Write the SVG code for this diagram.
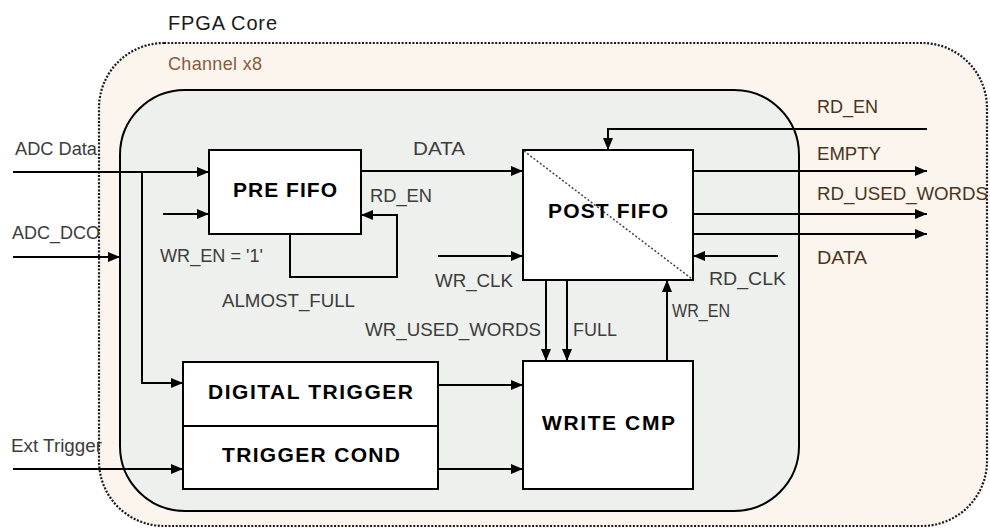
<svg xmlns="http://www.w3.org/2000/svg" width="990" height="529" viewBox="0 0 990 529">
  <defs>
    <marker id="arrow" viewBox="0 0 12 10" refX="12" refY="5" markerWidth="12" markerHeight="10" markerUnits="userSpaceOnUse" orient="auto">
      <path d="M0,0 L12,5 L0,10 z" fill="#000"/>
    </marker>
    <style>
      .box { fill: #fff; stroke: #000; stroke-width: 2; }
      .arr { fill: none; stroke: #000; stroke-width: 2; marker-end: url(#arrow); }
      .title { font-family: "Liberation Sans", Arial, sans-serif; font-weight: bold; font-size: 21px; fill: #000; }
      .lbl { font-family: "Liberation Sans", Arial, sans-serif; font-size: 18px; fill: #3c3c3c; }
      .out { font-family: "Liberation Sans", Arial, sans-serif; font-size: 18px; fill: #4a3420; }
    </style>
  </defs>

  <rect width="990" height="529" fill="#fff"/>

  <!-- FPGA core region (dotted) -->
  <g id="fpga-core">
    <rect x="99" y="43" width="888" height="483" rx="65" ry="65" fill="#fbf5ee" stroke="#1a1a1a" stroke-width="2.2" stroke-dasharray="2 1.6"/>
    <text x="168" y="30" font-family="Liberation Sans, Arial, sans-serif" font-size="20" fill="#1a1a1a" textLength="109" lengthAdjust="spacing">FPGA Core</text>
  </g>

  <!-- Channel block -->
  <g id="channel">
    <rect x="120" y="90" width="679" height="421" rx="65" ry="65" fill="#eef0ed" stroke="#000" stroke-width="2"/>
    <text x="168" y="70" font-family="Liberation Sans, Arial, sans-serif" font-size="18" fill="#8b5a3c" textLength="94" lengthAdjust="spacing">Channel x8</text>
  </g>

  <!-- Connectors -->
  <g id="connectors">
    <!-- ADC Data into PRE FIFO, branch to DIGITAL TRIGGER -->
    <line class="arr" x1="13" y1="172" x2="209" y2="172"/>
    <polyline class="arr" points="142,172 142,383 183,383"/>
    <!-- ADC_DCO -->
    <line class="arr" x1="13" y1="257" x2="120" y2="257"/>
    <!-- Ext Trigger -->
    <line class="arr" x1="13" y1="469" x2="183" y2="469"/>
    <!-- WR_EN = '1' -->
    <line class="arr" x1="163" y1="214" x2="209" y2="214"/>
    <!-- ALMOST_FULL -> RD_EN loop -->
    <polyline class="arr" points="290,234 290,277 397,277 397,215 361,215"/>
    <!-- DATA PRE -> POST -->
    <line class="arr" x1="361" y1="171" x2="523" y2="171"/>
    <!-- WR_CLK -->
    <line class="arr" x1="438" y1="256" x2="523" y2="256"/>
    <!-- RD_CLK -->
    <line class="arr" x1="778" y1="256" x2="693" y2="256"/>
    <!-- RD_EN into POST FIFO -->
    <polyline class="arr" points="927,129 608,129 608,150"/>
    <!-- outputs -->
    <line class="arr" x1="693" y1="171" x2="927" y2="171"/>
    <line class="arr" x1="693" y1="214" x2="927" y2="214"/>
    <line class="arr" x1="693" y1="234" x2="927" y2="234"/>
    <!-- WR_USED_WORDS, FULL -->
    <line class="arr" x1="546" y1="280" x2="546" y2="361"/>
    <line class="arr" x1="567" y1="280" x2="567" y2="361"/>
    <!-- WR_EN -->
    <line class="arr" x1="667" y1="361" x2="667" y2="280"/>
    <!-- triggers into WRITE CMP -->
    <line class="arr" x1="438" y1="385" x2="523" y2="385"/>
    <line class="arr" x1="438" y1="469" x2="523" y2="469"/>
  </g>

  <!-- Nodes -->
  <g id="pre-fifo">
    <rect class="box" x="209" y="150" width="152" height="84"/>
    <text class="title" x="233" y="197" textLength="104" lengthAdjust="spacing">PRE FIFO</text>
  </g>

  <g id="post-fifo">
    <rect class="box" x="523" y="150" width="170" height="130"/>
    <line x1="524" y1="151" x2="692" y2="279" stroke="#444" stroke-width="1.5" stroke-dasharray="2 2"/>
    <text class="title" x="548" y="218" textLength="120" lengthAdjust="spacing">POST FIFO</text>
  </g>

  <g id="digital-trigger">
    <rect class="box" x="183" y="362" width="255" height="64"/>
    <text class="title" x="208" y="399" textLength="205" lengthAdjust="spacing">DIGITAL TRIGGER</text>
  </g>

  <g id="trigger-cond">
    <rect class="box" x="183" y="426" width="255" height="63"/>
    <text class="title" x="222" y="462" textLength="178" lengthAdjust="spacing">TRIGGER COND</text>
  </g>

  <g id="write-cmp">
    <rect class="box" x="523" y="361" width="170" height="128"/>
    <text class="title" x="542" y="430" textLength="133" lengthAdjust="spacing">WRITE CMP</text>
  </g>

  <!-- Signal labels -->
  <g id="labels">
    <text class="lbl" x="15" y="155" textLength="82" lengthAdjust="spacingAndGlyphs">ADC Data</text>
    <text class="lbl" x="12" y="239" textLength="88" lengthAdjust="spacingAndGlyphs">ADC_DCO</text>
    <text class="lbl" x="11" y="452" textLength="91" lengthAdjust="spacingAndGlyphs">Ext Trigger</text>
    <text class="lbl" x="160" y="262" textLength="103" lengthAdjust="spacingAndGlyphs">WR_EN = '1'</text>
    <text class="lbl" x="222" y="307" textLength="133" lengthAdjust="spacingAndGlyphs">ALMOST_FULL</text>
    <text class="lbl" x="413" y="155" textLength="52" lengthAdjust="spacingAndGlyphs">DATA</text>
    <text class="lbl" x="370" y="202" textLength="62" lengthAdjust="spacingAndGlyphs">RD_EN</text>
    <text class="lbl" x="435" y="287" textLength="78" lengthAdjust="spacingAndGlyphs">WR_CLK</text>
    <text class="lbl" x="365" y="336" textLength="176" lengthAdjust="spacingAndGlyphs">WR_USED_WORDS</text>
    <text class="lbl" x="573" y="336" textLength="44" lengthAdjust="spacingAndGlyphs">FULL</text>
    <text class="lbl" x="672" y="317" textLength="58" lengthAdjust="spacingAndGlyphs">WR_EN</text>
    <text class="lbl" x="709" y="285" textLength="77" lengthAdjust="spacingAndGlyphs">RD_CLK</text>
    <text class="out" x="817" y="113" textLength="61" lengthAdjust="spacingAndGlyphs">RD_EN</text>
    <text class="out" x="817" y="160" textLength="64" lengthAdjust="spacingAndGlyphs">EMPTY</text>
    <text class="out" x="817" y="200" textLength="171" lengthAdjust="spacingAndGlyphs">RD_USED_WORDS</text>
    <text class="out" x="817" y="264" textLength="50" lengthAdjust="spacingAndGlyphs">DATA</text>
  </g>
</svg>
